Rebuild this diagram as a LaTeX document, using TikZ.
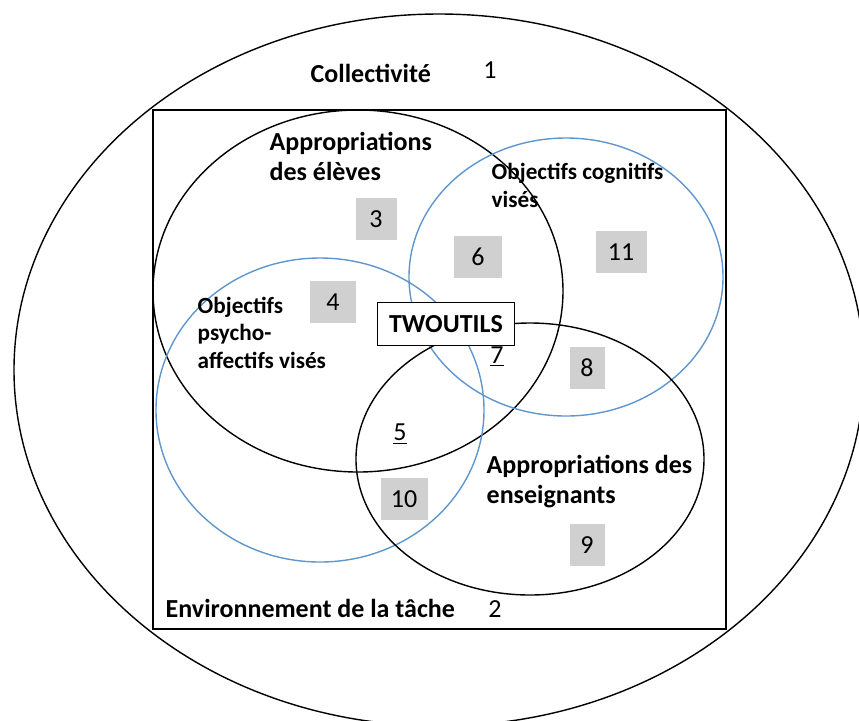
\documentclass[tikz,border=0pt]{standalone}
\usepackage{fontspec}
\setmainfont{Carlito}
\usepackage{tikz}
\definecolor{venblue}{RGB}{95,150,205}
\definecolor{boxgray}{RGB}{208,208,208}

\begin{document}
\begin{tikzpicture}[x=0.5pt, y=-0.5pt, line width=0.7pt,
    lbl/.style={font=\bfseries\fontsize{13}{15}\selectfont, align=left, inner sep=0pt, anchor=base west},
    smalllbl/.style={font=\bfseries\fontsize{11.6}{13.7}\selectfont, align=left, inner sep=0pt, anchor=base west},
    numbox/.style={fill=boxgray, inner sep=0pt, minimum height=21pt, font=\fontsize{13}{15}\selectfont},
    num/.style={inner sep=0pt, anchor=base, font=\fontsize{13}{15}\selectfont}]
            \useasboundingbox (0,0) rectangle (859,720);
            \draw (439,370) ellipse [x radius=425, y radius=356];
            \draw[line width=0.9pt] (153,110) rectangle (726,629);
            \draw (358,291) ellipse [x radius=205, y radius=181];
            \draw[color=venblue] (566,277) ellipse [x radius=157, y radius=139];
            \draw[color=venblue] (320,410) ellipse [x radius=164, y radius=152];
            \draw (530,459) ellipse [x radius=174, y radius=136];
            \node[lbl] (collect) at (310,82) {Collectivité};
            \node[num] (one) at (490,78) {1};
            \node[lbl] (envir) at (165,617) {Environnement de la tâche};
            \node[num] (two) at (495,617) {2};
            \node[lbl] (appel) at (269,180) {Appropriations\\des élèves};
            \node[lbl] (appens) at (486,503) {Appropriations des\\enseignants};
            \node[smalllbl] (objcog) at (491,207) {Objectifs cognitifs\\visés};
            \node[smalllbl] (objpsy) at (197,368) {Objectifs\\psycho-\\affectifs visés};
            \node[draw, fill=white, line width=0.6pt, inner sep=0pt, minimum width=68.5pt, minimum height=21.5pt,
                font=\bfseries\fontsize{13}{15}\selectfont] (tw) at (446,324) {TWOUTILS};
            \node[numbox, minimum width=20.5pt] (n3) at (376,219) {3};
            \node[numbox, minimum width=23pt] (n4) at (333,302) {4};
            \node[numbox, minimum width=24pt] (n6) at (478,257) {6};
            \node[numbox, minimum width=17.5pt] (n8) at (587,368) {8};
            \node[numbox, minimum width=17.5pt] (n9) at (587,545) {9};
            \node[numbox, minimum width=23.5pt] (n10) at (404,499) {10};
            \node[numbox, minimum width=25.5pt] (n11) at (621,252) {11};
            \node[num] (n7) at (497,363) {\underline{7}};
            \node[num] (n5) at (400,440) {\underline{5}};
        \end{tikzpicture}
\end{document}
